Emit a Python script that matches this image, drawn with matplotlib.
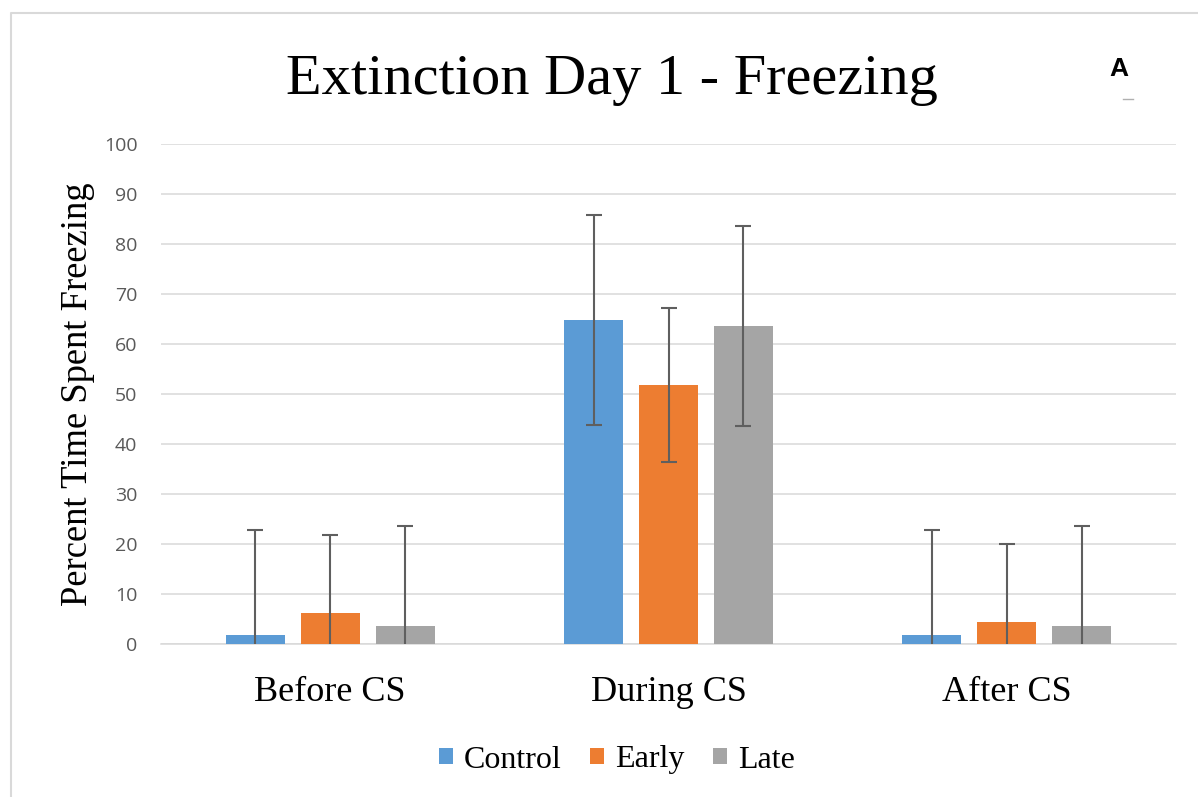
import matplotlib
matplotlib.use("Agg")
import matplotlib.pyplot as plt
from matplotlib.lines import Line2D
import numpy as np

# data
phases = ["Before CS", "During CS", "After CS"]
groups = ["Control", "Early", "Late"]
control = [1.8, 64.8, 1.8]
early = [6.2, 51.8, 4.4]
late = [3.7, 63.6, 3.7]
control_err = [21.1, 21.0, 21.1]
early_err = [15.7, 15.4, 15.7]
late_err = [19.9, 20.0, 19.9]
yticks = [0, 10, 20, 30, 40, 50, 60, 70, 80, 90, 100]

colors = ["#5B9BD5", "#ED7D31", "#A5A5A5"]
serif = "Liberation Serif"

fig = plt.figure(figsize=(11.98, 7.97), dpi=100)
ax = fig.add_axes([161 / 1198, 1 - 644 / 797, (1176 - 161) / 1198, 500 / 797])

x = np.arange(len(phases))
width = 0.174
step = 0.2216
series = [(control, control_err), (early, early_err), (late, late_err)]
for i, (vals, err) in enumerate(series):
    pos = x + (i - 1) * step
    ax.bar(pos, vals, width, color=colors[i], label=groups[i], zorder=2)
    # symmetric bars; the part below 0 is clipped by the axes like Excel does
    ax.errorbar(pos, vals, yerr=err, fmt="none",
                ecolor="#5f5f5f", elinewidth=1.5, capsize=5.8, capthick=1.5,
                zorder=3)

ax.set_xlim(-0.5, 2.5)
ax.set_ylim(0, 100)
ax.set_yticks(yticks)
ax.yaxis.grid(True, color="#D9D9D9", lw=1.1, zorder=0)
ax.set_axisbelow(True)
for s in ["top", "right", "left"]:
    ax.spines[s].set_visible(False)
ax.spines["bottom"].set_color("#D9D9D9")
ax.spines["bottom"].set_linewidth(1.1)
ax.spines["bottom"].set_zorder(1)

ax.set_xticks(x)
ax.set_xticklabels(phases, fontsize=26, family=serif, color="black")
ax.tick_params(axis="x", length=0, pad=23)
ax.tick_params(axis="y", length=0, pad=17, labelsize=14, labelcolor="#595959")
for t in ax.get_yticklabels():
    t.set_family("Open Sans")

ax.set_ylabel("Percent Time Spent Freezing", fontsize=26.4, family=serif)
ax.yaxis.set_label_coords(-0.065, 0.5)

fig.text(612 / 1198, 1 - 80 / 797, "Extinction Day 1 - Freezing", fontsize=42,
         family=serif, ha="center", va="center")
fig.text(1119 / 1198, 1 - 69 / 797, "A", fontsize=19, fontweight="bold",
         family="Liberation Sans", ha="center", va="center")
fig.add_artist(Line2D([1123 / 1198, 1133 / 1198], [1 - 99 / 797, 1 - 99 / 797],
                      color="#b0b0b0", lw=1))

# outer frame (left and top edges visible)
fig.add_artist(Line2D([11 / 1198, 11 / 1198, 1.0], [0.0, 1 - 13 / 797, 1 - 13 / 797],
                      color="#D9D9D9", lw=1.5))

leg = fig.legend(loc="center", bbox_to_anchor=(617 / 1198, 1 - 760 / 797), ncol=3,
                 frameon=False, prop={"family": serif, "size": 23},
                 handlelength=0.42, handleheight=0.42, handletextpad=0.35,
                 columnspacing=0.9)

fig.savefig("out.png", dpi=100)
